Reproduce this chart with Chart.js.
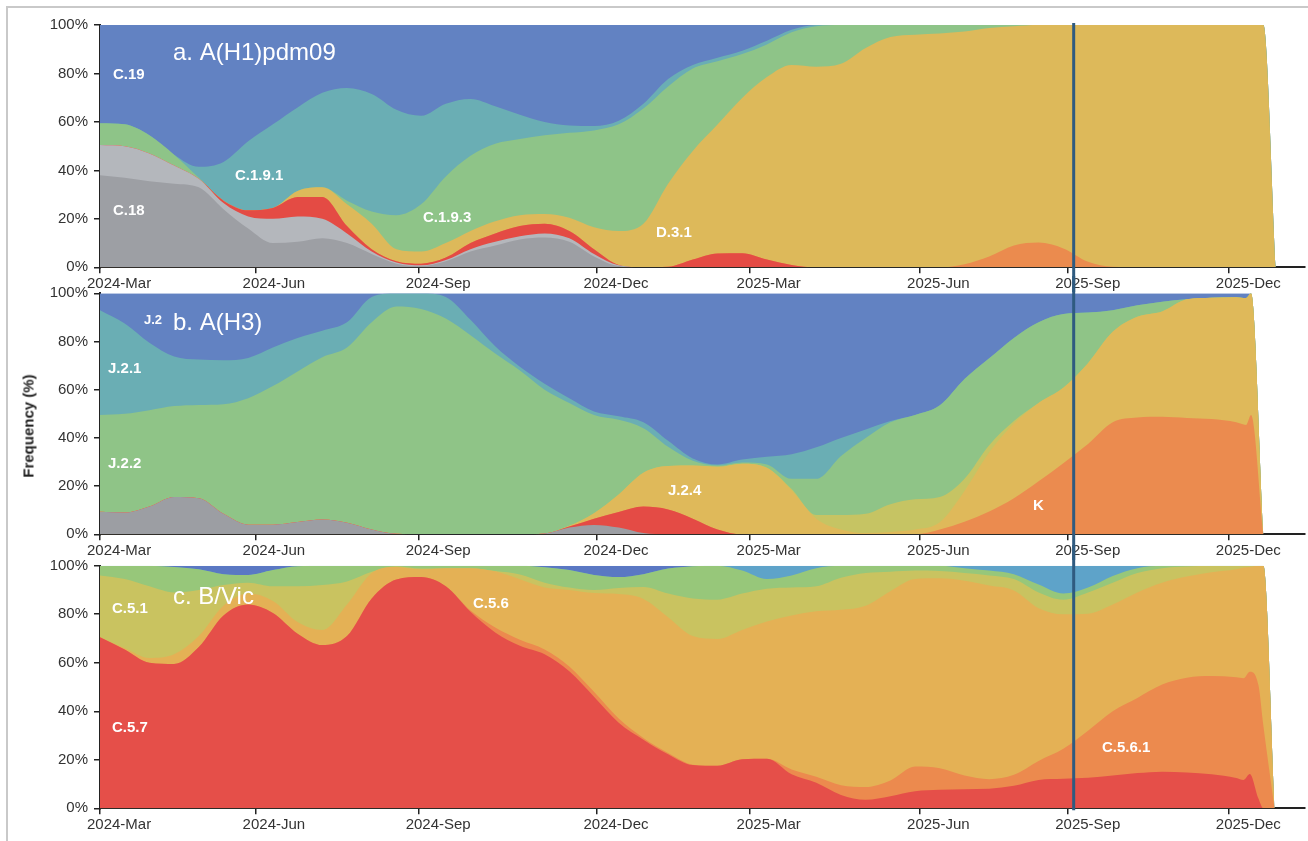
<!DOCTYPE html>
<html>
<head>
<meta charset="utf-8">
<title>Clade frequencies</title>
<script src="https://cdn.jsdelivr.net/npm/chart.js@4.4.1/dist/chart.umd.min.js"></script>
<style>
  html, body { margin: 0; padding: 0; background: #fff; }
  body { width: 1308px; height: 841px; position: relative; overflow: hidden; font-family: "Liberation Sans", Arial, sans-serif; }
  .frame { position: absolute; left: 6px; top: 6px; width: 1400px; height: 900px; border-left: 2px solid #c9c9c9; border-top: 2px solid #c9c9c9; }
  .panel { position: absolute; left: 0; width: 1308px; }
  #ytitle { position: absolute; left: 28px; top: 426px; transform: translate(-50%, -50%) rotate(-90deg); font: bold 15px "Liberation Sans", Arial, sans-serif; color: #222; white-space: nowrap; }
</style>
</head>
<body>
<div class="frame"></div>
<div class="panel" style="top:0px;height:292px"><canvas id="cA"></canvas></div>
<div class="panel" style="top:276px;height:284px"><canvas id="cB"></canvas></div>
<div class="panel" style="top:545px;height:296px"><canvas id="cC"></canvas></div>
<div id="ytitle">Frequency (%)</div>
<script>
// ---- time axis (weeks since start of 2024-Mar) ----
const tickWeeks  = [0, 12.6, 25.8, 40.2, 52.6, 66.4, 78.4, 91.4];
const tickLabels = ['2024-Mar', '2024-Jun', '2024-Sep', '2024-Dec', '2025-Mar', '2025-Jun', '2025-Sep', '2025-Dec'];
const currentWeek = 78.84;
const axisMaxWeek = 97.57;

// ---- a. A(H1)pdm09 ----
const weeksA = [0,2,4,6,8,10,12,14,16,18,20,22,24,26,28,30,32,34,36,38,40,42,44,46,48,50,52,54,56,58,60,62,64,66,68,70,72,74,76,78,80,82,84,86,88,90,92,94.2,95.2];
const h1_C18a  = [38,37,35.5,34.5,33,24,16,10,10.5,12,10,5.5,1.5,0.5,2.5,6.5,9,11.5,12.3,10.5,4.5,0.5,0,0,0,0,0,0,0,0,0,0,0,0,0,0,0,0,0,0,0,0,0,0,0,0,0,0,0];
const h1_C18b  = [12.5,13,11.5,7.5,3.5,2.5,5,10,10.5,8,4,1,0.5,0.3,0.5,1,1.5,1.3,1.7,1.5,1,0.3,0,0,0,0,0,0,0,0,0,0,0,0,0,0,0,0,0,0,0,0,0,0,0,0,0,0,0];
const h1_red   = [0,0,0,0,0,1,2.5,4.5,8,9,3,1,0.5,0.7,1,2.5,3.5,4.2,4,3,2,0.2,0,0.2,3.2,5.7,5.8,3.2,1,0,0,0,0,0,0,0,0,0,0,0,0,0,0,0,0,0,0,0,0];
const h1_orange= [0,0,0,0,0,0,0,0,0,0,0,0,0,0,0,0,0,0,0,0,0,0,0,0,0,0,0,0,0,0,0,0,0,0,0,1.3,4.5,9,10.2,7.8,2.3,0.2,0,0,0,0,0,0,0];
const h1_D31   = [0,0,0,0,0,0,0,0,2.5,4,9,10.5,5,5,6,5,5,4.5,4,5.5,9,14,18,34.3,44.8,53.2,64.1,75.3,82.5,82.8,84,90.5,95,96,96.5,96,94.3,90.5,89.8,92.2,97.7,99.8,100,100,100,100,100,100,0];
const h1_C193  = [9,9,7.5,4.5,0.5,0,0,0,0,0,1.5,5,14,19.5,27.5,31,32,31.5,32.5,35,40,44,47.5,40.1,34,26.1,18.1,13.5,13.5,16.7,16,9.5,5,4,3.5,2.7,1.2,0.5,0,0,0,0,0,0,0,0,0,0,0];
const h1_C191  = [0,0,0,0,4.5,16,28.5,34.5,34.5,39,46.5,48.5,43.5,36.5,30,23.5,15.5,10,5.5,3,1.8,1.5,2,3.1,1.5,1.5,1.4,1.5,1,0.5,0,0,0,0,0,0,0,0,0,0,0,0,0,0,0,0,0,0,0];
const h1_C19   = [40.5,41,45.5,53.5,58.5,56.5,48,41,34,28,26,28.5,35,37.5,32.5,30.5,33.5,37,40,41.5,41.7,39.5,32.5,22.3,16.5,13.5,10.6,6.5,2,0,0,0,0,0,0,0,0,0,0,0,0,0,0,0,0,0,0,0,0];

// ---- b. A(H3) ----
const weeksB = [0,2,4,6,8,10,12,14,16,18,20,22,24,26,28,30,32,34,36,38,40,42,44,46,48,50,52,54,56,58,60,62,64,66,68,70,72,74,76,78,80,82,84,86,88,90,92,92.8,93.2,94.2];
const h3_gray  = [9.4,9,11.5,15.5,15,8.5,4,4,5.1,6.1,4.8,2,0.2,0,0,0,0,0,0.3,2.8,3.9,2.8,0.5,0,0,0,0,0,0,0,0,0,0,0,0,0,0,0,0,0,0,0,0,0,0,0,0,0,0,0];
const h3_red   = [0,0,0,0,0,0,0,0,0,0,0,0,0,0,0,0,0,0,0,0.4,2.6,6.5,11,10.3,6.5,2,0,0,0,0,0,0,0,0,0,0,0,0,0,0,0,0,0,0,0,0,0,0,0,0];
const h3_K     = [0,0,0,0,0,0,0,0,0,0,0,0,0,0,0,0,0,0,0,0,0,0,0,0,0,0,0,0,0,0,0,0,0,0,2,5.2,9.5,15,22,29.5,37.5,46.5,48.5,48.8,48.3,47.8,46.5,45.4,49.5,0];
const h3_J24   = [0,0,0,0,0,0,0,0,0,0,0,0,0,0,0,0,0,0,0,0.3,2.2,7.2,14,18,22,26,29.3,27.6,18.3,6.5,2,0.5,1,2,3,12.8,24.5,31,32.5,31.3,33.5,37.5,41.8,43.7,49.2,50.4,51.9,52.6,50.5,0];
const h3_khaki = [0,0,0,0,0,0,0,0,0,0,0,0,0,0,0,0,0,0,0,0,0,0,0,0,0,0,0,0,0.5,1.5,6,8,11.5,12.5,10.5,5.1,3,1,0,0,0,0,0,0,0,0,0,0,0,0];
const h3_J22   = [40.1,41,40,37.7,38.7,45.5,52.5,57.5,62.5,67.4,72.7,86,94.3,93.5,89.5,82.6,75,68,59.7,51,40.8,31,18.5,8,2,0.5,0.5,1.4,4.2,15,24.5,31.5,34,35,38,41.3,36,34.5,33.5,30.6,21,9,4.7,4,0,0,0,0,0,0];
const h3_J21   = [43.5,37.5,28,20.6,18.8,18.2,16.7,16,13.9,11,10.5,10.5,5.5,6.5,9,6.4,3,1.5,2.5,2,1.5,1.5,2.5,2.5,1,0.5,1.2,3.2,10.2,13.1,7.5,3.5,0.5,0,0,0,0,0,0,0,0,0,0,0,0,0,0,0,0,0];
const h3_J2    = [7,12.5,20.5,26.2,27.5,27.8,26.8,22.5,18.5,15.5,12,1.5,0,0,1.5,11,22,30.5,37.5,43.5,49,51,53.5,61.2,68.5,71,69,67.8,66.8,63.9,60,56.5,53,50.5,46.5,35.6,27,18.5,12,8.6,8,7,5,3.5,2.5,1.8,1.6,2,0,0];

// ---- c. B/Vic ----
const weeksC = [0,2,4,6,8,10,12,14,16,18,20,22,24,26,28,30,32,34,36,38,40,42,44,46,48,50,52,54,56,58,60,62,64,66,68,70,72,74,76,78,80,82,84,86,88,90,92,92.6,93.1,93.8,94.2,95.1];
const bv_C57   = [70.5,65.5,60,59.5,66.5,79.5,84,80.5,72,67.3,71,86.5,94.3,95.3,91.5,81,72.5,67,63.5,56.5,46,35.3,28.3,22.3,17.8,17.5,20.2,20.4,14,10.5,5.5,3.5,5,7,7.6,7.9,8.1,9.3,11.7,12.2,12.6,13.5,14.5,15.1,14.8,14,12.5,11.7,14.1,4,0,0];
const bv_C561  = [0,0,0,0,0,0,0,0,0,0,0,0,0,0,0,0.5,2,2.5,2,2,2,1.7,0.7,0.5,0.2,0,0,0,2,2.5,4,5.3,6.5,10.2,8.9,5.6,3.9,4.5,7.8,12.3,19.4,26.5,31,35.9,39,40.5,41.5,41.9,42.2,46.8,34,0];
const bv_C56   = [0,0.5,2,4,4.5,4,4.5,5,4.8,6.2,13,10.5,5.2,3.2,7.5,17.5,23.2,24.9,25.5,31.5,40.7,51.3,57.3,56,53,52.3,53.3,56.6,63.5,68.2,72.3,74.7,78,77.3,78.3,80.3,79.8,76,63,55.5,48.2,44,43.5,42,41.7,42.8,44.5,45.7,43.2,49.2,66,0];
const bv_C51   = [25.5,28.5,29.5,25.5,19,8.5,4.5,6,14.7,18.5,9.5,0.5,0.3,0.3,0,0,0.1,2,2,1,1.3,2.5,4.9,9.7,15.5,16.2,15,13.5,11.5,10.3,13.2,13.5,8,3.5,3,3.2,4.2,4.7,6.5,6,8.8,9,8,6,4.2,2.7,1.5,0.7,0.5,0,0,0];
const bv_green = [4,5.5,8.5,10.5,8.5,4.5,3.2,6.7,8.3,8,6.5,2.5,0.2,1.2,1,1,2.2,3.6,6.4,7.2,6.2,4.5,5.3,10.3,13.3,14,9.5,4,5,7.5,5,3,2.5,2,2.2,2,2,2,3.2,2.5,2,2.8,2,1,0.3,0,0,0,0,0,0,0];
const bv_ltblue= [0,0,0,0,0,0,0,0,0,0,0,0,0,0,0,0,0,0,0,0,0,0,0,0,0,0,2,5.5,4,1,0,0,0,0,0,1,2,3.5,7.8,11.5,9,4.2,1,0,0,0,0,0,0,0,0,0];
const bv_blue  = [0,0,0,0.5,1.5,3.5,3.8,1.8,0.2,0,0,0,0,0,0,0,0,0,0.6,1.8,3.8,4.7,3.5,1.2,0.2,0,0,0,0,0,0,0,0,0,0,0,0,0,0,0,0,0,0,0,0,0,0,0,0,0,0,0];

// ---- shared styling ----
Chart.defaults.font.family = '"Liberation Sans", Arial, Helvetica, sans-serif';
Chart.defaults.font.size = 15;
Chart.defaults.color = '#333';

const AXIS = '#222';

function makeNotesPlugin(items) {
  return {
    id: 'notes',
    afterDraw(chart) {
      const { ctx, scales: { x, y } } = chart;
      ctx.save();
      ctx.fillStyle = '#ffffff';
      ctx.textAlign = 'left';
      ctx.textBaseline = 'alphabetic';
      for (const n of items) {
        ctx.font = n.font;
        ctx.fillText(n.text, x.getPixelForValue(n.wk), y.getPixelForValue(n.pct));
      }
      ctx.restore();
    }
  };
}

function makeNowLine(fromArea, toArea) {
  return {
    id: 'nowLine',
    afterDraw(chart) {
      const { ctx, chartArea } = chart;
      const px = chart.scales.x.getPixelForValue(currentWeek);
      const y0 = fromArea ? chartArea.top - 2 : 0;
      const y1 = toArea ? chartArea.bottom + 2 : chart.height;
      ctx.save();
      ctx.strokeStyle = '#2f5b80';
      ctx.lineWidth = 3;
      ctx.beginPath();
      ctx.moveTo(px, y0);
      ctx.lineTo(px, y1);
      ctx.stroke();
      ctx.restore();
    }
  };
}

function buildPanel(canvasId, weeks, layers, notes, cfg) {
  const datasets = layers.map(l => ({
    label: l.name,
    data: weeks.map((w, i) => ({ x: w, y: l.values[i] })),
    backgroundColor: l.color,
    borderColor: l.color,
    borderWidth: 0,
    pointRadius: 0,
    fill: 'origin',
    cubicInterpolationMode: 'monotone'
  }));
  return new Chart(document.getElementById(canvasId), {
    type: 'line',
    data: { datasets },
    options: {
      responsive: true,
      maintainAspectRatio: false,
      animation: false,
      events: [],
      layout: { padding: { top: cfg.padTop, right: 3, left: 0, bottom: 0 } },
      plugins: { legend: { display: false }, tooltip: { enabled: false } },
      scales: {
        x: {
          type: 'linear', min: 0, max: axisMaxWeek, bounds: 'data', z: 1,
          afterBuildTicks: s => { s.ticks = tickWeeks.map(v => ({ value: v })); },
          afterFit: s => { s.height = cfg.xHeight; },
          ticks: {
            autoSkip: false, maxRotation: 0, minRotation: 0,
            align: 'start', labelOffset: -13, padding: 2,
            color: '#333', font: { size: 15 },
            callback: (v, i) => tickLabels[i]
          },
          grid: { drawOnChartArea: false, drawTicks: true, tickLength: 6, color: AXIS, lineWidth: 1.5 },
          border: { display: true, color: AXIS, width: 2 }
        },
        y: {
          stacked: true, min: 0, max: 100, z: 1,
          afterFit: s => { s.width = 100; },
          ticks: { stepSize: 20, padding: 6, color: '#333', font: { size: 15 }, callback: v => v + '%' },
          grid: { drawOnChartArea: false, drawTicks: true, tickLength: 6, color: AXIS, lineWidth: 1.5 },
          border: { display: true, color: AXIS, width: 2 }
        }
      }
    },
    plugins: [makeNowLine(cfg.lineFromArea, cfg.lineToArea), makeNotesPlugin(notes)]
  });
}

const TITLE = '24px "Liberation Sans", Arial, sans-serif';
const LAB = 'bold 15px "Liberation Sans", Arial, sans-serif';
const LAB_S = 'bold 13px "Liberation Sans", Arial, sans-serif';

buildPanel('cA', weeksA, [
  { name: 'C.18',    color: '#9d9fa4', values: h1_C18a },
  { name: 'C.18 (other)', color: '#b4b7bc', values: h1_C18b },
  { name: 'C.1.9.3 red',  color: '#e44b44', values: h1_red },
  { name: 'orange',  color: '#eb8b4e', values: h1_orange },
  { name: 'D.3.1',   color: '#ddb95a', values: h1_D31 },
  { name: 'C.1.9.3', color: '#8ec488', values: h1_C193 },
  { name: 'C.1.9.1', color: '#6aaeb4', values: h1_C191 },
  { name: 'C.19',    color: '#6282c2', values: h1_C19 }
], [
  { text: 'a. A(H1)pdm09', wk: 5.91, pct: 85.6, font: TITLE },
  { text: 'C.19',    wk: 1.05,  pct: 77.7, font: LAB },
  { text: 'C.1.9.1', wk: 10.93, pct: 36.0, font: LAB },
  { text: 'C.18',    wk: 1.05,  pct: 21.6, font: LAB },
  { text: 'C.1.9.3', wk: 26.15, pct: 18.7, font: LAB },
  { text: 'D.3.1',   wk: 45.02, pct: 12.3, font: LAB }
], { padTop: 25, xHeight: 24.7, lineFromArea: true, lineToArea: false });

buildPanel('cB', weeksB, [
  { name: 'gray',  color: '#9c9ea3', values: h3_gray },
  { name: 'red',   color: '#e44b45', values: h3_red },
  { name: 'K',     color: '#eb8b4f', values: h3_K },
  { name: 'J.2.4', color: '#dfb95a', values: h3_J24 },
  { name: 'khaki', color: '#c6c463', values: h3_khaki },
  { name: 'J.2.2', color: '#8fc487', values: h3_J22 },
  { name: 'J.2.1', color: '#6aaeb4', values: h3_J21 },
  { name: 'J.2',   color: '#6282c2', values: h3_J2 }
], [
  { text: 'b. A(H3)', wk: 5.91, pct: 84.8, font: TITLE },
  { text: 'J.2',   wk: 3.56,  pct: 87.3, font: LAB_S },
  { text: 'J.2.1', wk: 0.65,  pct: 66.9, font: LAB },
  { text: 'J.2.2', wk: 0.65,  pct: 27.5, font: LAB },
  { text: 'J.2.4', wk: 45.99, pct: 16.3, font: LAB },
  { text: 'K',     wk: 75.55, pct: 10.1, font: LAB }
], { padTop: 17.3, xHeight: 25.7, lineFromArea: false, lineToArea: false });

buildPanel('cC', weeksC, [
  { name: 'C.5.7',   color: '#e54f49', values: bv_C57 },
  { name: 'C.5.6.1', color: '#ec8a4e', values: bv_C561 },
  { name: 'C.5.6',   color: '#e4b155', values: bv_C56 },
  { name: 'C.5.1',   color: '#c9c360', values: bv_C51 },
  { name: 'green',   color: '#97c77a', values: bv_green },
  { name: 'light blue', color: '#5ea3c9', values: bv_ltblue },
  { name: 'blue',    color: '#5a78c3', values: bv_blue }
], [
  { text: 'c. B/Vic', wk: 5.91, pct: 84.2, font: TITLE },
  { text: 'C.5.1',   wk: 0.97,  pct: 80.5, font: LAB },
  { text: 'C.5.7',   wk: 0.97,  pct: 31.5, font: LAB },
  { text: 'C.5.6',   wk: 30.2,  pct: 82.7, font: LAB },
  { text: 'C.5.6.1', wk: 81.13, pct: 23.2, font: LAB }
], { padTop: 20.7, xHeight: 32.7, lineFromArea: false, lineToArea: true });
</script>
</body>
</html>
